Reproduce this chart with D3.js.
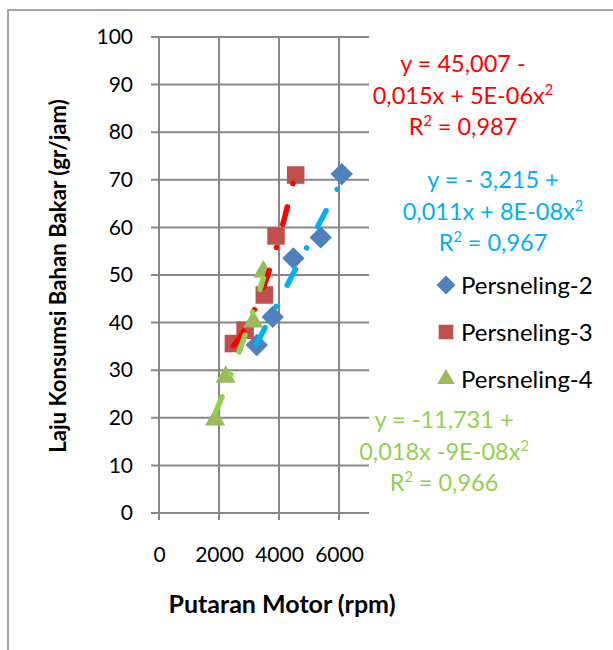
<!DOCTYPE html>
<html>
<head>
<meta charset="utf-8">
<script src="https://cdn.jsdelivr.net/npm/d3@7"></script>
<style>
  html, body { margin: 0; padding: 0; background: #ffffff; }
  svg { display: block; }
  text { font-family: Lato, "Open Sans", sans-serif; }
</style>
</head>
<body>
<svg id="chart" width="613" height="650"></svg>
<script>
// ---- data ----
const xTicks = [0, 2000, 4000, 6000];
const yTicks = [0, 10, 20, 30, 40, 50, 60, 70, 80, 90, 100];
const seriesNames = ["Persneling-2", "Persneling-3", "Persneling-4"];
const p2x = [3260, 3790, 4480, 5390, 6090];
const p2y = [35.3, 41.2, 53.5, 57.9, 71.2];
const p3x = [2480, 2870, 3510, 3900, 4556];
const p3y = [35.6, 38.4, 45.8, 58.2, 71.0];
const p4x = [1870, 2220, 3140, 3480];
const p4y = [19.6, 28.6, 40.2, 50.7];
const eq2 = ["y = - 3,215 +", "0,011x + 8E-08x²", "R² = 0,967"];
const eq3 = ["y = 45,007 -", "0,015x + 5E-06x²", "R² = 0,987"];
const eq4 = ["y = -11,731 +", "0,018x -9E-08x²", "R² = 0,966"];
const xTitle = "Putaran Motor (rpm)";
const yTitle = "Laju Konsumsi Bahan Bakar (gr/jam)";

// ---- setup ----
const svg = d3.select("#chart");
const x = d3.scaleLinear().domain([0, 7000]).range([159, 369]);
const y = d3.scaleLinear().domain([0, 100]).range([513, 37]);

const markerColors = ["#4F81BD", "#C0504D", "#9BBB59"];
const trendColors = ["#00B0F0", "#FF0000", "#92D050"];
const symbols = [d3.symbolDiamond2, d3.symbolSquare2, d3.symbolTriangle2];

// frame
svg.append("rect").attr("x", 8).attr("y", 10).attr("width", 700).attr("height", 700)
  .attr("fill", "#ffffff").attr("stroke", "#a6a6a6").attr("stroke-width", 2);

// gridlines
const grid = svg.append("g").attr("stroke", "#878787").attr("stroke-width", 2);
grid.selectAll("line.h").data(yTicks).join("line")
  .attr("x1", 151).attr("x2", x(7000)).attr("y1", d => y(d)).attr("y2", d => y(d));
grid.selectAll("line.v").data(xTicks).join("line")
  .attr("x1", d => x(d)).attr("x2", d => x(d)).attr("y1", y(100)).attr("y2", 520);

// axes labels via d3 axes (no domain lines)
const yAxis = svg.append("g").attr("transform", `translate(${x(0)},0)`)
  .call(d3.axisLeft(y).tickValues(yTicks).tickSize(0).tickPadding(26));
const xAxis = svg.append("g").attr("transform", `translate(0,${y(0)})`)
  .call(d3.axisBottom(x).tickValues(xTicks).tickSize(0).tickPadding(34).tickFormat(d3.format("d")));
[yAxis, xAxis].forEach(a => {
  a.select(".domain").remove();
  a.selectAll("text").attr("font-family", "Lato").attr("font-size", 21).attr("fill", "#000");
});

// markers
const series = [[p2x, p2y], [p3x, p3y], [p4x, p4y]];
const markerSizes = [320, 390, 290];
series.forEach(([xs, ys], i) => {
  svg.append("g").selectAll("path").data(xs.map((v, j) => [v, ys[j]])).join("path")
    .attr("transform", d => `translate(${x(d[0])},${y(d[1])})`)
    .attr("d", d3.symbol(symbols[i], markerSizes[i]))
    .attr("fill", markerColors[i]);
});

// quadratic least-squares trendline
function quadFit(xs, ys) {
  let s = [0,0,0,0,0], t = [0,0,0];
  xs.forEach((xv, k) => {
    const u = xv / 1000;
    for (let p = 0; p < 5; p++) s[p] += Math.pow(u, p);
    for (let p = 0; p < 3; p++) t[p] += ys[k] * Math.pow(u, p);
  });
  const A = [[s[0], s[1], s[2], t[0]], [s[1], s[2], s[3], t[1]], [s[2], s[3], s[4], t[2]]];
  for (let i = 0; i < 3; i++) {
    for (let r = i + 1; r < 3; r++) {
      const f = A[r][i] / A[i][i];
      for (let c = i; c < 4; c++) A[r][c] -= f * A[i][c];
    }
  }
  const c = [0,0,0];
  for (let i = 2; i >= 0; i--) {
    let v = A[i][3];
    for (let j = i + 1; j < 3; j++) v -= A[i][j] * c[j];
    c[i] = v / A[i][i];
  }
  return xv => { const u = xv / 1000; return c[0] + c[1] * u + c[2] * u * u; };
}
const line = d3.line().x(d => x(d[0])).y(d => y(d[1]));
series.forEach(([xs, ys], i) => {
  const f = quadFit(xs, ys);
  const lo = d3.min(xs), hi = d3.max(xs);
  const pts = d3.range(0, 61).map(k => { const xv = lo + (hi - lo) * k / 60; return [xv, f(xv)]; });
  svg.append("path").datum(pts).attr("d", line)
    .attr("fill", "none").attr("stroke", trendColors[i]).attr("stroke-width", 5.5)
    .attr("stroke-linecap", "round").attr("stroke-dasharray", "18 24 0.01 24");
});

// text with real superscript 2
function writeSup(sel, str) {
  const parts = str.split("²");
  let shift = 0;
  parts.forEach((p, k) => {
    if (p.length) { sel.append("tspan").attr("dy", shift).text(p); shift = 0; }
    if (k < parts.length - 1) {
      sel.append("tspan").attr("font-size", "62%").attr("dy", -9).text("2");
      shift = 9;
    }
  });
}

// equations
function eq(lines, cx, baseY, color) {
  lines.forEach((d, k) => {
    const t = svg.append("text").attr("x", cx).attr("y", baseY + k * 31.5)
      .attr("text-anchor", "middle").attr("font-size", 23.5).attr("fill", color);
    writeSup(t, d);
  });
}
eq(eq3, 463, 72, "#FF0000");
eq(eq2, 493, 188, "#00B0F0");
eq(eq4, 444, 428, "#92D050");

// legend
const legY = [285, 332, 379];
seriesNames.forEach((name, i) => {
  svg.append("path").attr("transform", `translate(446,${legY[i]})`)
    .attr("d", d3.symbol(symbols[i], [230, 270, 220][i])).attr("fill", markerColors[i]);
  svg.append("text").attr("x", 461).attr("y", legY[i] + 8.5).attr("font-size", 24)
    .attr("fill", "#000").text(name);
});

// axis titles
svg.append("text").attr("x", 282).attr("y", 613).attr("text-anchor", "middle")
  .attr("font-size", 25).attr("font-weight", "bold").attr("fill", "#000").text(xTitle);
svg.append("text").attr("transform", "translate(66,276) rotate(-90)").attr("text-anchor", "middle")
  .attr("font-size", 22.2).attr("font-weight", "bold").attr("fill", "#000").text(yTitle);
</script>
</body>
</html>
